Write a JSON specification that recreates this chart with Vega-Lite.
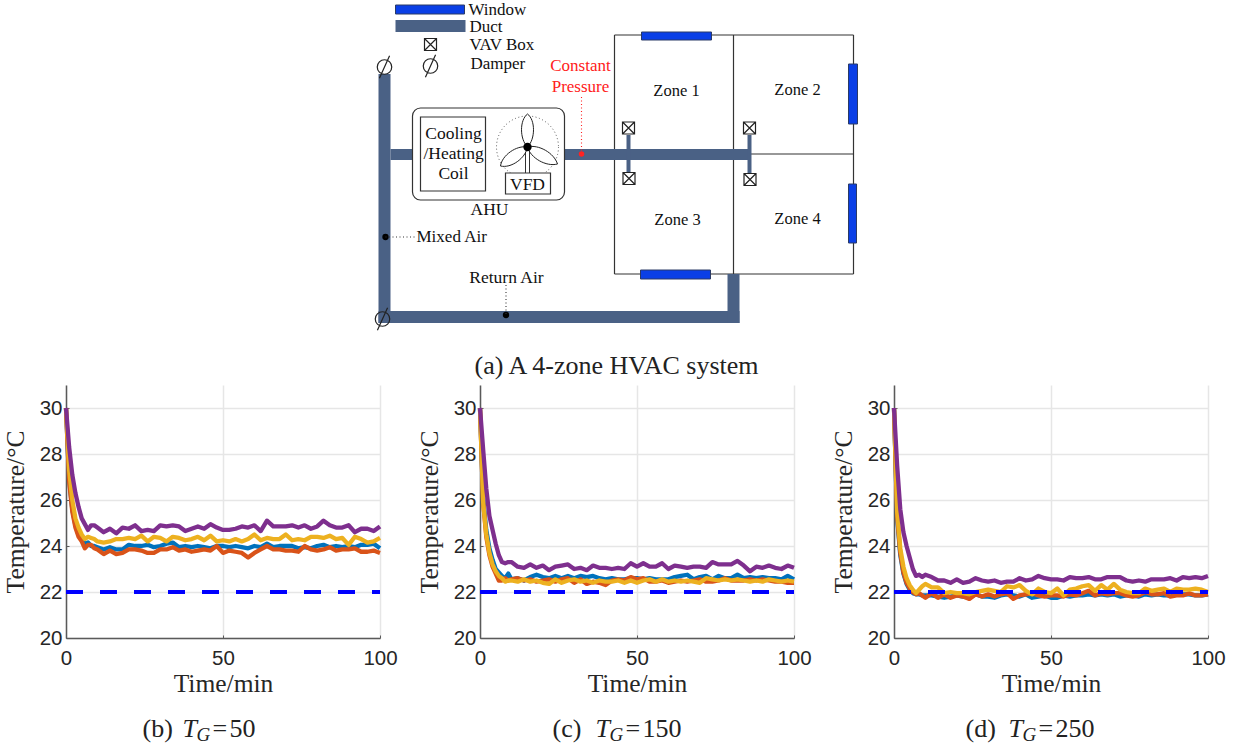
{"$schema":"https://vega.github.io/schema/vega-lite/v6.json","background":"white","padding":{"left":3,"top":0,"right":5,"bottom":5},"config":{"view":{"stroke":null},"axis":{"grid":true,"gridColor":"#e6e6e6","gridWidth":1.5,"domainColor":"#5a5a5a","domainWidth":1.5,"tickColor":"#5a5a5a","tickWidth":1,"tickSize":-3,"labelFlush":false,"labelFont":"Liberation Sans","labelFontSize":20.5,"labelColor":"#262626","labelPadding":7,"titleFont":"Liberation Serif","titleFontSize":25.5,"titleFontWeight":"normal","titleColor":"#262626"}},"bounds":"flush","spacing":0,"datasets":{"b":[{"t":0,"blue":30,"orange":30,"yellow":30,"purple":30},{"t":1,"blue":26.9,"orange":26.8,"yellow":27.3,"purple":28.3},{"t":2,"blue":25.6,"orange":25.5,"yellow":26,"purple":27.1},{"t":3,"blue":24.9,"orange":24.8,"yellow":25.2,"purple":26.3},{"t":4,"blue":24.5,"orange":24.4,"yellow":24.8,"purple":25.7},{"t":5,"blue":24.3,"orange":24.2,"yellow":24.5,"purple":25.2},{"t":6,"blue":24.1,"orange":23.9,"yellow":24.3,"purple":24.95},{"t":7,"blue":24.15,"orange":24.05,"yellow":24.4,"purple":24.7},{"t":8,"blue":24,"orange":24.05,"yellow":24.35,"purple":24.9},{"t":9,"blue":24,"orange":23.9,"yellow":24.3,"purple":24.9},{"t":10,"blue":23.95,"orange":23.85,"yellow":24.2,"purple":24.8},{"t":12,"blue":23.85,"orange":23.65,"yellow":24.15,"purple":24.6},{"t":14,"blue":23.95,"orange":23.8,"yellow":24.2,"purple":24.75},{"t":16,"blue":23.85,"orange":23.65,"yellow":24.3,"purple":24.55},{"t":18,"blue":23.85,"orange":23.7,"yellow":24.3,"purple":24.8},{"t":20,"blue":24.05,"orange":23.85,"yellow":24.35,"purple":24.75},{"t":22,"blue":24,"orange":23.85,"yellow":24.3,"purple":24.9},{"t":24,"blue":24,"orange":23.8,"yellow":24.45,"purple":24.65},{"t":26,"blue":24.05,"orange":23.7,"yellow":24.2,"purple":24.7},{"t":28,"blue":23.95,"orange":23.7,"yellow":24.4,"purple":24.65},{"t":30,"blue":24,"orange":23.85,"yellow":24.35,"purple":24.9},{"t":32,"blue":24.1,"orange":23.85,"yellow":24.2,"purple":24.85},{"t":34,"blue":24.15,"orange":23.95,"yellow":24.4,"purple":24.9},{"t":36,"blue":23.95,"orange":23.8,"yellow":24.35,"purple":24.85},{"t":38,"blue":24,"orange":23.85,"yellow":24.25,"purple":24.65},{"t":40,"blue":23.95,"orange":23.75,"yellow":24.3,"purple":24.75},{"t":42,"blue":24,"orange":23.8,"yellow":24.4,"purple":24.85},{"t":44,"blue":23.95,"orange":23.85,"yellow":24.25,"purple":24.75},{"t":46,"blue":23.9,"orange":23.8,"yellow":24.45,"purple":24.95},{"t":48,"blue":24,"orange":24,"yellow":24.2,"purple":24.8},{"t":50,"blue":24,"orange":23.7,"yellow":24.25,"purple":24.7},{"t":52,"blue":23.95,"orange":23.8,"yellow":24.2,"purple":24.7},{"t":54,"blue":24,"orange":23.75,"yellow":24.3,"purple":24.75},{"t":56,"blue":23.95,"orange":23.7,"yellow":24.2,"purple":24.85},{"t":58,"blue":23.9,"orange":23.5,"yellow":24.3,"purple":24.8},{"t":60,"blue":24,"orange":23.7,"yellow":24.5,"purple":24.9},{"t":62,"blue":23.95,"orange":23.85,"yellow":24.25,"purple":24.65},{"t":64,"blue":24.1,"orange":24,"yellow":24.35,"purple":25.1},{"t":66,"blue":23.95,"orange":23.85,"yellow":24.3,"purple":24.85},{"t":68,"blue":24,"orange":23.85,"yellow":24.3,"purple":24.85},{"t":70,"blue":24,"orange":23.8,"yellow":24.5,"purple":24.85},{"t":72,"blue":24,"orange":23.8,"yellow":24.25,"purple":24.9},{"t":74,"blue":23.9,"orange":23.75,"yellow":24.3,"purple":24.8},{"t":76,"blue":23.95,"orange":24,"yellow":24.25,"purple":24.9},{"t":78,"blue":23.9,"orange":23.85,"yellow":24.4,"purple":24.75},{"t":80,"blue":24,"orange":23.8,"yellow":24.4,"purple":24.85},{"t":82,"blue":24.05,"orange":23.85,"yellow":24.35,"purple":25.1},{"t":84,"blue":23.95,"orange":23.95,"yellow":24.45,"purple":24.9},{"t":86,"blue":24,"orange":23.8,"yellow":24.3,"purple":24.8},{"t":88,"blue":23.95,"orange":23.85,"yellow":24.35,"purple":24.8},{"t":90,"blue":24,"orange":23.85,"yellow":24.05,"purple":24.9},{"t":92,"blue":23.95,"orange":23.9,"yellow":24.4,"purple":24.6},{"t":94,"blue":24.05,"orange":23.75,"yellow":24.3,"purple":24.75},{"t":96,"blue":24.05,"orange":23.75,"yellow":24.15,"purple":24.75},{"t":98,"blue":24.1,"orange":23.8,"yellow":24.2,"purple":24.65},{"t":100,"blue":23.9,"orange":23.7,"yellow":24.35,"purple":24.85}],"c":[{"t":0,"blue":30,"orange":30,"yellow":30,"purple":30},{"t":1,"blue":26.1,"orange":25.9,"yellow":25.9,"purple":28.2},{"t":2,"blue":24.7,"orange":24.4,"yellow":24.5,"purple":26.5},{"t":3,"blue":23.9,"orange":23.6,"yellow":23.7,"purple":25.3},{"t":4,"blue":23.4,"orange":23.1,"yellow":23.2,"purple":24.7},{"t":5,"blue":23,"orange":22.8,"yellow":22.9,"purple":24.1},{"t":6,"blue":22.85,"orange":22.5,"yellow":22.7,"purple":23.6},{"t":7,"blue":22.7,"orange":22.5,"yellow":22.6,"purple":23.3},{"t":8,"blue":22.6,"orange":22.6,"yellow":22.45,"purple":23.25},{"t":9,"blue":22.8,"orange":22.5,"yellow":22.5,"purple":23.3},{"t":10,"blue":22.55,"orange":22.55,"yellow":22.5,"purple":23.3},{"t":12,"blue":22.6,"orange":22.6,"yellow":22.45,"purple":23.1},{"t":14,"blue":22.5,"orange":22.5,"yellow":22.55,"purple":23.05},{"t":16,"blue":22.65,"orange":22.55,"yellow":22.45,"purple":23.2},{"t":18,"blue":22.75,"orange":22.45,"yellow":22.5,"purple":23.05},{"t":20,"blue":22.65,"orange":22.5,"yellow":22.4,"purple":23.15},{"t":22,"blue":22.6,"orange":22.55,"yellow":22.35,"purple":22.95},{"t":24,"blue":22.7,"orange":22.45,"yellow":22.55,"purple":23.1},{"t":26,"blue":22.6,"orange":22.55,"yellow":22.4,"purple":23.15},{"t":28,"blue":22.7,"orange":22.6,"yellow":22.5,"purple":23.2},{"t":30,"blue":22.6,"orange":22.4,"yellow":22.55,"purple":23},{"t":32,"blue":22.7,"orange":22.55,"yellow":22.45,"purple":23.05},{"t":34,"blue":22.65,"orange":22.35,"yellow":22.5,"purple":22.95},{"t":36,"blue":22.7,"orange":22.45,"yellow":22.4,"purple":23.15},{"t":38,"blue":22.6,"orange":22.4,"yellow":22.5,"purple":23.05},{"t":40,"blue":22.55,"orange":22.3,"yellow":22.45,"purple":23.05},{"t":42,"blue":22.6,"orange":22.5,"yellow":22.45,"purple":23},{"t":44,"blue":22.55,"orange":22.55,"yellow":22.5,"purple":23.05},{"t":46,"blue":22.55,"orange":22.5,"yellow":22.4,"purple":23},{"t":48,"blue":22.6,"orange":22.65,"yellow":22.5,"purple":23.25},{"t":50,"blue":22.6,"orange":22.55,"yellow":22.4,"purple":23.1},{"t":52,"blue":22.55,"orange":22.6,"yellow":22.5,"purple":23.25},{"t":54,"blue":22.6,"orange":22.45,"yellow":22.55,"purple":23.1},{"t":56,"blue":22.55,"orange":22.45,"yellow":22.45,"purple":23.1},{"t":58,"blue":22.55,"orange":22.5,"yellow":22.55,"purple":23.25},{"t":60,"blue":22.55,"orange":22.4,"yellow":22.45,"purple":23},{"t":62,"blue":22.65,"orange":22.45,"yellow":22.5,"purple":23.15},{"t":64,"blue":22.7,"orange":22.5,"yellow":22.45,"purple":23.1},{"t":66,"blue":22.75,"orange":22.45,"yellow":22.5,"purple":23.05},{"t":68,"blue":22.55,"orange":22.5,"yellow":22.45,"purple":23.1},{"t":70,"blue":22.65,"orange":22.55,"yellow":22.4,"purple":23.1},{"t":72,"blue":22.7,"orange":22.45,"yellow":22.6,"purple":23.05},{"t":74,"blue":22.55,"orange":22.45,"yellow":22.55,"purple":23.3},{"t":76,"blue":22.7,"orange":22.5,"yellow":22.5,"purple":23.2},{"t":78,"blue":22.6,"orange":22.6,"yellow":22.55,"purple":23.2},{"t":80,"blue":22.6,"orange":22.5,"yellow":22.5,"purple":23.2},{"t":82,"blue":22.75,"orange":22.5,"yellow":22.55,"purple":23.35},{"t":84,"blue":22.6,"orange":22.5,"yellow":22.5,"purple":23.15},{"t":86,"blue":22.65,"orange":22.55,"yellow":22.45,"purple":22.9},{"t":88,"blue":22.6,"orange":22.5,"yellow":22.5,"purple":23.1},{"t":90,"blue":22.65,"orange":22.55,"yellow":22.45,"purple":23.05},{"t":92,"blue":22.6,"orange":22.5,"yellow":22.55,"purple":23.15},{"t":94,"blue":22.6,"orange":22.45,"yellow":22.5,"purple":23.05},{"t":96,"blue":22.55,"orange":22.45,"yellow":22.45,"purple":23},{"t":98,"blue":22.7,"orange":22.4,"yellow":22.5,"purple":23.15},{"t":100,"blue":22.55,"orange":22.4,"yellow":22.45,"purple":23.05}],"d":[{"t":0,"blue":30,"orange":30,"yellow":30,"purple":30},{"t":1,"blue":25.2,"orange":25.3,"yellow":25.5,"purple":27.5},{"t":2,"blue":23.6,"orange":23.7,"yellow":23.9,"purple":25.6},{"t":3,"blue":22.8,"orange":22.85,"yellow":23.1,"purple":24.6},{"t":4,"blue":22.35,"orange":22.4,"yellow":22.6,"purple":24},{"t":5,"blue":22.1,"orange":22.15,"yellow":22.3,"purple":23.5},{"t":6,"blue":21.95,"orange":22,"yellow":22.1,"purple":23},{"t":7,"blue":21.9,"orange":21.9,"yellow":21.95,"purple":22.7},{"t":8,"blue":21.9,"orange":21.95,"yellow":22.1,"purple":22.75},{"t":9,"blue":21.85,"orange":21.85,"yellow":22.25,"purple":22.65},{"t":10,"blue":21.85,"orange":21.75,"yellow":22.35,"purple":22.75},{"t":12,"blue":21.85,"orange":21.95,"yellow":22.2,"purple":22.65},{"t":14,"blue":21.8,"orange":21.75,"yellow":22.2,"purple":22.5},{"t":16,"blue":21.75,"orange":21.9,"yellow":21.95,"purple":22.5},{"t":18,"blue":21.8,"orange":21.75,"yellow":22,"purple":22.4},{"t":20,"blue":21.85,"orange":21.85,"yellow":21.95,"purple":22.55},{"t":22,"blue":21.8,"orange":21.8,"yellow":21.95,"purple":22.4},{"t":24,"blue":21.75,"orange":21.7,"yellow":21.9,"purple":22.45},{"t":26,"blue":21.9,"orange":21.9,"yellow":22,"purple":22.6},{"t":28,"blue":21.8,"orange":21.8,"yellow":22.05,"purple":22.5},{"t":30,"blue":21.8,"orange":21.9,"yellow":22.1,"purple":22.45},{"t":32,"blue":21.75,"orange":21.8,"yellow":22.05,"purple":22.5},{"t":34,"blue":21.85,"orange":21.9,"yellow":22,"purple":22.4},{"t":36,"blue":21.9,"orange":21.95,"yellow":22.25,"purple":22.45},{"t":38,"blue":21.85,"orange":21.7,"yellow":22.2,"purple":22.45},{"t":40,"blue":21.8,"orange":21.85,"yellow":22.3,"purple":22.6},{"t":42,"blue":21.9,"orange":21.9,"yellow":22.05,"purple":22.5},{"t":44,"blue":21.75,"orange":21.95,"yellow":21.9,"purple":22.55},{"t":46,"blue":21.8,"orange":21.85,"yellow":22.15,"purple":22.7},{"t":48,"blue":21.85,"orange":21.8,"yellow":22,"purple":22.6},{"t":50,"blue":21.75,"orange":21.85,"yellow":21.95,"purple":22.55},{"t":52,"blue":21.75,"orange":21.85,"yellow":22.15,"purple":22.55},{"t":54,"blue":21.85,"orange":21.8,"yellow":21.85,"purple":22.5},{"t":56,"blue":21.8,"orange":21.9,"yellow":22.1,"purple":22.65},{"t":58,"blue":21.85,"orange":21.85,"yellow":22.15,"purple":22.6},{"t":60,"blue":21.85,"orange":21.95,"yellow":22.25,"purple":22.6},{"t":62,"blue":21.9,"orange":22.05,"yellow":22.3,"purple":22.65},{"t":64,"blue":21.85,"orange":21.85,"yellow":22.05,"purple":22.55},{"t":66,"blue":21.9,"orange":21.95,"yellow":22.3,"purple":22.55},{"t":68,"blue":21.85,"orange":21.9,"yellow":22.1,"purple":22.65},{"t":70,"blue":21.9,"orange":21.95,"yellow":22.35,"purple":22.65},{"t":72,"blue":21.8,"orange":21.95,"yellow":22.1,"purple":22.65},{"t":74,"blue":21.85,"orange":21.85,"yellow":22,"purple":22.5},{"t":76,"blue":21.85,"orange":21.8,"yellow":21.95,"purple":22.45},{"t":78,"blue":21.8,"orange":21.85,"yellow":21.95,"purple":22.5},{"t":80,"blue":21.9,"orange":22,"yellow":22.15,"purple":22.45},{"t":82,"blue":21.85,"orange":21.9,"yellow":22.05,"purple":22.55},{"t":84,"blue":21.9,"orange":21.9,"yellow":22.1,"purple":22.55},{"t":86,"blue":21.85,"orange":21.95,"yellow":22.15,"purple":22.55},{"t":88,"blue":21.85,"orange":21.8,"yellow":22,"purple":22.6},{"t":90,"blue":21.95,"orange":21.85,"yellow":22.15,"purple":22.5},{"t":92,"blue":21.9,"orange":21.85,"yellow":22.1,"purple":22.65},{"t":94,"blue":21.9,"orange":21.95,"yellow":22.1,"purple":22.6},{"t":96,"blue":21.85,"orange":21.85,"yellow":22.15,"purple":22.65},{"t":98,"blue":21.85,"orange":21.85,"yellow":22.1,"purple":22.6},{"t":100,"blue":21.9,"orange":21.9,"yellow":22,"purple":22.7}]},"vconcat":[{"width":1143,"height":385,"encoding":{"x":{"field":"x","type":"quantitative","axis":null,"scale":{"domain":[66.5,1209.5],"nice":false,"zero":false}},"y":{"field":"y","type":"quantitative","axis":null,"scale":{"domain":[385,0],"nice":false,"zero":false}}},"layer":[{"data":{"values":[{"x":615,"y":35,"x2":854,"y2":35},{"x":615,"y":274,"x2":854,"y2":274},{"x":615,"y":35,"x2":615,"y2":274},{"x":854,"y":35,"x2":854,"y2":274},{"x":734,"y":35,"x2":734,"y2":274},{"x":734,"y":154,"x2":854,"y2":154}]},"mark":{"type":"rule","color":"#333333","strokeWidth":1.2},"encoding":{"x2":{"field":"x2"},"y2":{"field":"y2"}}},{"data":{"values":[{"x":379,"y":74,"x2":391,"y2":323},{"x":379,"y":311,"x2":740,"y2":323},{"x":728,"y":274,"x2":740,"y2":323},{"x":391,"y":149,"x2":413,"y2":160},{"x":565,"y":149,"x2":751,"y2":160},{"x":627,"y":135,"x2":631,"y2":173},{"x":748,"y":135,"x2":752,"y2":173}]},"mark":{"type":"rect","color":"#4a6185"},"encoding":{"x2":{"field":"x2"},"y2":{"field":"y2"}}},{"data":{"values":[{"x":396,"y":20,"x2":466,"y2":32}]},"mark":{"type":"rect","color":"#4a6185"},"encoding":{"x2":{"field":"x2"},"y2":{"field":"y2"}}},{"data":{"values":[{"x":396,"y":5,"x2":465,"y2":14},{"x":642,"y":32,"x2":712,"y2":40},{"x":641,"y":270,"x2":711,"y2":279},{"x":849,"y":64,"x2":858,"y2":124},{"x":849,"y":184,"x2":857,"y2":243}]},"mark":{"type":"rect","fill":"#0a3fe6","stroke":"#2a3a66","strokeWidth":1},"encoding":{"x2":{"field":"x2"},"y2":{"field":"y2"}}},{"data":{"values":[{"x":413,"y":108,"x2":565,"y2":200}]},"mark":{"type":"rect","fill":"white","stroke":"#333333","strokeWidth":1.2,"cornerRadius":8},"encoding":{"x2":{"field":"x2"},"y2":{"field":"y2"}}},{"data":{"values":[{"x":421,"y":117,"x2":486,"y2":191}]},"mark":{"type":"rect","fill":"white","stroke":"#333333","strokeWidth":1.2},"encoding":{"x2":{"field":"x2"},"y2":{"field":"y2"}}},{"data":{"values":[{"x":528,"y":147}]},"mark":{"type":"point","shape":"circle","size":3844,"filled":false,"stroke":"#555555","strokeWidth":1,"strokeDash":[1,2.5],"opacity":1}},{"data":{"values":[{"x":526,"y":147,"x2":526,"y2":173},{"x":530,"y":147,"x2":530,"y2":173}]},"mark":{"type":"rule","color":"#333333","strokeWidth":1},"encoding":{"x2":{"field":"x2"},"y2":{"field":"y2"}}},{"data":{"values":[{"x":528,"y":147}]},"mark":{"type":"point","shape":"M0,0C-8,-8 -8,-27 0,-33C8,-27 8,-8 0,0Z","size":4,"filled":true,"fill":"white","stroke":"#222222","strokeWidth":1,"opacity":1}},{"data":{"values":[{"x":528,"y":147}]},"mark":{"type":"point","shape":"M0,0C3,11 18.6,20 30,17C26.6,6 11,-3 0,0Z","size":4,"filled":true,"fill":"white","stroke":"#222222","strokeWidth":1,"opacity":1}},{"data":{"values":[{"x":528,"y":147}]},"mark":{"type":"point","shape":"M0,0C-1.9,11.2 -16.4,21.6 -27,19C-25.6,8.4 -11.1,-2 0,0Z","size":4,"filled":true,"fill":"white","stroke":"#222222","strokeWidth":1,"opacity":1}},{"data":{"values":[{"x":506,"y":173,"x2":551,"y2":194}]},"mark":{"type":"rect","fill":"white","stroke":"#333333","strokeWidth":1.2},"encoding":{"x2":{"field":"x2"},"y2":{"field":"y2"}}},{"data":{"values":[{"x":431,"y":44.5},{"x":629,"y":128},{"x":629.5,"y":178.5},{"x":750,"y":128},{"x":750.5,"y":179.5}]},"mark":{"type":"point","shape":"M-1,-1L1,-1L1,1L-1,1ZM-1,-1L1,1M-1,1L1,-1","size":144,"filled":true,"fill":"white","stroke":"#222222","strokeWidth":1.2,"opacity":1}},{"data":{"values":[{"x":431,"y":66},{"x":385,"y":67},{"x":383,"y":319}]},"mark":{"type":"point","shape":"M-1,0A1,1 0 1,0 1,0A1,1 0 1,0 -1,0ZM-0.7,1.55L0.7,-1.55","size":210,"filled":false,"stroke":"#222222","strokeWidth":1.2,"opacity":1}},{"data":{"values":[{"x":528,"y":147},{"x":386,"y":237},{"x":506.5,"y":315}]},"mark":{"type":"point","shape":"circle","size":40,"filled":true,"color":"black","opacity":1}},{"data":{"values":[{"x":528,"y":147}]},"mark":{"type":"point","shape":"circle","size":70,"filled":true,"color":"black","opacity":1}},{"data":{"values":[{"x":386,"y":237,"x2":415,"y2":237},{"x":506.5,"y":285,"x2":506.5,"y2":315}]},"mark":{"type":"rule","color":"#333333","strokeWidth":1.1,"strokeDash":[1,2.5]},"encoding":{"x2":{"field":"x2"},"y2":{"field":"y2"}}},{"data":{"values":[{"x":582,"y":97,"x2":582,"y2":154}]},"mark":{"type":"rule","color":"#ff2222","strokeWidth":1.1,"strokeDash":[1,2.5]},"encoding":{"x2":{"field":"x2"},"y2":{"field":"y2"}}},{"data":{"values":[{"x":582,"y":154}]},"mark":{"type":"point","shape":"circle","size":30,"filled":true,"color":"#ff2222","opacity":1}},{"data":{"values":[{"x":581,"y":66,"label":"Constant"},{"x":581,"y":87,"label":"Pressure"}]},"mark":{"type":"text","font":"Liberation Serif","fontSize":17,"color":"#ff2020","align":"center","baseline":"middle"},"encoding":{"text":{"field":"label"}}},{"data":{"values":[{"x":677,"y":91,"label":"Zone 1"},{"x":798,"y":90,"label":"Zone 2"},{"x":678,"y":220,"label":"Zone 3"},{"x":798,"y":219,"label":"Zone 4"}]},"mark":{"type":"text","font":"Liberation Serif","fontSize":16.5,"color":"#111111","align":"center","baseline":"middle"},"encoding":{"text":{"field":"label"}}},{"data":{"values":[{"x":454,"y":134,"label":"Cooling"},{"x":454,"y":154,"label":"/Heating"},{"x":454,"y":174,"label":"Coil"},{"x":528,"y":185,"label":"VFD"},{"x":490,"y":210,"label":"AHU"},{"x":507,"y":278,"label":"Return Air"}]},"mark":{"type":"text","font":"Liberation Serif","fontSize":17.5,"color":"#111111","align":"center","baseline":"middle"},"encoding":{"text":{"field":"label"}}},{"data":{"values":[{"x":469,"y":10,"label":"Window"},{"x":470,"y":27,"label":"Duct"},{"x":470,"y":45,"label":"VAV Box"},{"x":471,"y":64,"label":"Damper"},{"x":417,"y":237,"label":"Mixed Air"}]},"mark":{"type":"text","font":"Liberation Serif","fontSize":17,"color":"#111111","align":"left","baseline":"middle"},"encoding":{"text":{"field":"label"}}},{"data":{"values":[{"x":617,"y":366,"label":"(a) A 4-zone HVAC system"}]},"mark":{"type":"text","font":"Liberation Serif","fontSize":26,"color":"#222222","align":"center","baseline":"middle"},"encoding":{"text":{"field":"label"}}},{"data":{"values":[{"x":143,"y":729,"label":"(b)"},{"x":213,"y":729,"label":"="},{"x":230,"y":729,"label":"50"},{"x":553,"y":729,"label":"(c)"},{"x":626,"y":729,"label":"="},{"x":643,"y":729,"label":"150"},{"x":966,"y":729,"label":"(d)"},{"x":1039,"y":729,"label":"="},{"x":1056,"y":729,"label":"250"}]},"mark":{"type":"text","font":"Liberation Serif","fontSize":26,"color":"#222222","align":"left","baseline":"middle"},"encoding":{"text":{"field":"label"}}},{"data":{"values":[{"x":183,"y":729,"label":"T"},{"x":596,"y":729,"label":"T"},{"x":1009,"y":729,"label":"T"}]},"mark":{"type":"text","font":"Liberation Serif","fontStyle":"italic","fontSize":26,"color":"#222222","align":"left","baseline":"middle"},"encoding":{"text":{"field":"label"}}},{"data":{"values":[{"x":197,"y":735,"label":"G"},{"x":610,"y":735,"label":"G"},{"x":1023,"y":735,"label":"G"}]},"mark":{"type":"text","font":"Liberation Serif","fontStyle":"italic","fontSize":19,"color":"#222222","align":"left","baseline":"middle"},"encoding":{"text":{"field":"label"}}}]},{"bounds":"flush","spacing":100,"hconcat":[{"width":314,"height":253,"data":{"name":"b"},"encoding":{"x":{"field":"t","type":"quantitative","title":"Time/min","scale":{"domain":[0,100],"nice":false},"axis":{"values":[0,50,100],"labelPadding":13,"titlePadding":3}}},"layer":[{"mark":{"type":"line","color":"#0072BD","strokeWidth":4.3,"strokeJoin":"round"},"encoding":{"y":{"field":"blue","type":"quantitative","title":"Temperature/°C","scale":{"domain":[20,31],"nice":false},"axis":{"values":[20,22,24,26,28,30],"titlePadding":11}}}},{"mark":{"type":"line","color":"#D95319","strokeWidth":4.3,"strokeJoin":"round"},"encoding":{"y":{"field":"orange","type":"quantitative"}}},{"mark":{"type":"line","color":"#EDB120","strokeWidth":4.3,"strokeJoin":"round"},"encoding":{"y":{"field":"yellow","type":"quantitative"}}},{"mark":{"type":"line","color":"#7E2F8E","strokeWidth":4.3,"strokeJoin":"round"},"encoding":{"y":{"field":"purple","type":"quantitative"}}},{"mark":{"type":"rule","color":"#0000ff","strokeWidth":4,"strokeDash":[17,17]},"encoding":{"y":{"datum":22},"x":{"value":0},"x2":{"value":314}}}]},{"width":314,"height":253,"data":{"name":"c"},"encoding":{"x":{"field":"t","type":"quantitative","title":"Time/min","scale":{"domain":[0,100],"nice":false},"axis":{"values":[0,50,100],"labelPadding":13,"titlePadding":3}}},"layer":[{"mark":{"type":"line","color":"#0072BD","strokeWidth":4.3,"strokeJoin":"round"},"encoding":{"y":{"field":"blue","type":"quantitative","title":"Temperature/°C","scale":{"domain":[20,31],"nice":false},"axis":{"values":[20,22,24,26,28,30],"titlePadding":11}}}},{"mark":{"type":"line","color":"#D95319","strokeWidth":4.3,"strokeJoin":"round"},"encoding":{"y":{"field":"orange","type":"quantitative"}}},{"mark":{"type":"line","color":"#EDB120","strokeWidth":4.3,"strokeJoin":"round"},"encoding":{"y":{"field":"yellow","type":"quantitative"}}},{"mark":{"type":"line","color":"#7E2F8E","strokeWidth":4.3,"strokeJoin":"round"},"encoding":{"y":{"field":"purple","type":"quantitative"}}},{"mark":{"type":"rule","color":"#0000ff","strokeWidth":4,"strokeDash":[17,17]},"encoding":{"y":{"datum":22},"x":{"value":0},"x2":{"value":314}}}]},{"width":314,"height":253,"data":{"name":"d"},"encoding":{"x":{"field":"t","type":"quantitative","title":"Time/min","scale":{"domain":[0,100],"nice":false},"axis":{"values":[0,50,100],"labelPadding":13,"titlePadding":3}}},"layer":[{"mark":{"type":"line","color":"#0072BD","strokeWidth":4.3,"strokeJoin":"round"},"encoding":{"y":{"field":"blue","type":"quantitative","title":"Temperature/°C","scale":{"domain":[20,31],"nice":false},"axis":{"values":[20,22,24,26,28,30],"titlePadding":11}}}},{"mark":{"type":"line","color":"#D95319","strokeWidth":4.3,"strokeJoin":"round"},"encoding":{"y":{"field":"orange","type":"quantitative"}}},{"mark":{"type":"line","color":"#EDB120","strokeWidth":4.3,"strokeJoin":"round"},"encoding":{"y":{"field":"yellow","type":"quantitative"}}},{"mark":{"type":"line","color":"#7E2F8E","strokeWidth":4.3,"strokeJoin":"round"},"encoding":{"y":{"field":"purple","type":"quantitative"}}},{"mark":{"type":"rule","color":"#0000ff","strokeWidth":4,"strokeDash":[17,17]},"encoding":{"y":{"datum":22},"x":{"value":0},"x2":{"value":314}}}]}]}]}
